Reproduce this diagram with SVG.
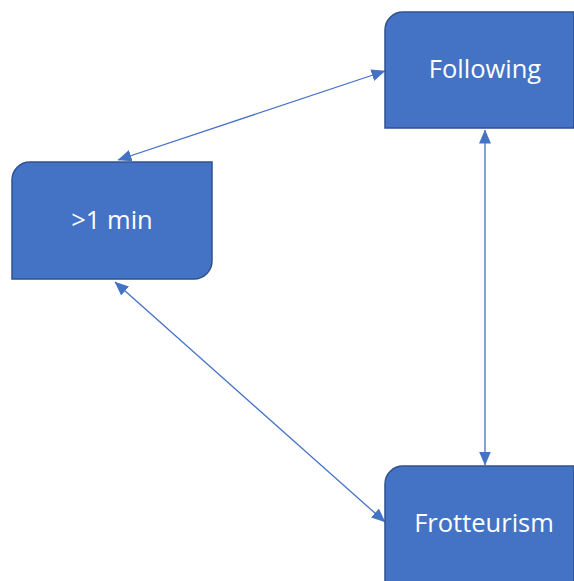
<svg xmlns="http://www.w3.org/2000/svg" width="574" height="581" viewBox="0 0 574 581">
<style>
.node{fill:#4472C4;stroke:#2F528F;stroke-width:1.5}
.lbl{fill:#fff;font-family:"Open Sans","Liberation Sans",sans-serif;font-size:25.5px;text-anchor:middle;dominant-baseline:central}
.conn{stroke:#4472C4;stroke-width:1.3;fill:none;marker-start:url(#ah);marker-end:url(#ah)}
</style>
<defs>
<marker id="ah" viewBox="0 0 14 12" refX="13.5" refY="6" markerWidth="14" markerHeight="12" markerUnits="userSpaceOnUse" orient="auto-start-reverse">
<path d="M0,0 L14,6 L0,12 Z" fill="#4472C4"/>
</marker>
</defs>
<rect width="574" height="581" fill="#fff"/>
<g id="connectors">
<line class="conn" x1="118" y1="160" x2="385" y2="71"/>
<line class="conn" x1="485" y1="130" x2="485" y2="465"/>
<line class="conn" x1="115" y1="282" x2="385" y2="522"/>
</g>
<g id="node-1min">
<path class="node" d="M30,162 H212 V261 A18,18 0 0 1 194,279 H12 V180 A18,18 0 0 1 30,162 Z"/>
<text class="lbl" x="112" y="219">&gt;1 min</text>
</g>
<g id="node-following">
<path class="node" d="M403,12 H574 V128 H385 V30 A18,18 0 0 1 403,12 Z"/>
<text class="lbl" x="485" y="68">Following</text>
</g>
<g id="node-frotteurism">
<path class="node" d="M403,466 H574 V582 H385 V484 A18,18 0 0 1 403,466 Z"/>
<text class="lbl" x="484" y="522">Frotteurism</text>
</g>
</svg>
